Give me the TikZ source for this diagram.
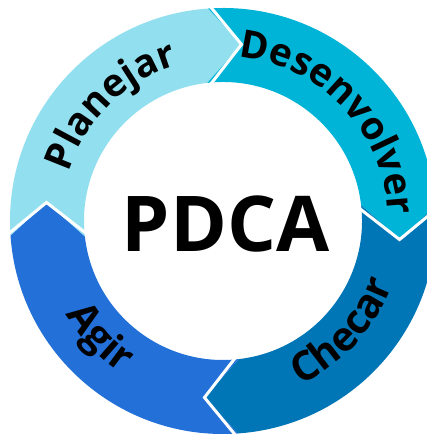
\documentclass[tikz,border=0pt]{standalone}
\usepackage{fontspec}
\newfontfamily\osans{Open Sans}
\usetikzlibrary{decorations.text}
\definecolor{planC}{RGB}{146,224,239}
\definecolor{doC}{RGB}{0,180,216}
\definecolor{checkC}{RGB}{0,118,182}
\definecolor{actC}{RGB}{34,112,216}
\newcommand\outerlabelfont{\osans\bfseries\fontsize{38.5}{40}\selectfont}
\newcommand\innerlabelfont{\osans\bfseries\fontsize{40.5}{42}\selectfont}
\tikzset{
  gapline/.style={draw=white, line width=3pt, line join=miter, line cap=butt},
  arctext/.style={decorate, decoration={text along path, text align=center, text={|\outerlabelfont|#1}}},
  arctextin/.style={decorate, decoration={text along path, text align=center, text={|\innerlabelfont|#1}}}
}
% one arrow of the ring: #1 colour, #2 angle of its notched end, #3 angle of its pointed end
\newcommand\ringarrow[3]{%
  \fill[#1] (#2-1:213) arc[start angle=#2-1, end angle=#3-1, radius=213]
    -- (#3-11:177.5) -- (#3+1.5:139)
    arc[start angle=#3+1.5, end angle=#2+1.5, radius=139]
    -- (#2-11:177.5) -- cycle;}
\begin{document}
\begin{tikzpicture}[x=1pt,y=1pt]
\useasboundingbox (0,0) rectangle (427,436);
\clip (0,0) rectangle (427,436);
\fill[white] (0,0) rectangle (427,436);
\begin{scope}[shift={(223,215)}]
  \ringarrow{planC}{185}{95}
  \ringarrow{doC}{95}{5}
  \ringarrow{checkC}{5}{-85}
  \ringarrow{actC}{-85}{-175}
  % white seams between the arrows
  \foreach \t in {95,5,-85,185}
    \draw[gapline] (\t-1:218) -- (\t-11:177.5) -- (\t+1.5:134);
  % labels following the ring
  \path[arctext=Planejar] (179.3:162) arc[start angle=179.3, end angle=89.3, radius=162];
  \path[arctext=Desenvolver] (88.3:165) arc[start angle=88.3, end angle=-1.7, radius=165];
  \path[arctextin=Checar] (-87.6:181) arc[start angle=-87.6, end angle=2.4, radius=181];
  \path[arctextin=Agir] (178.5:183) arc[start angle=178.5, end angle=268.5, radius=183];
\end{scope}
\node[anchor=base, inner sep=0pt, font=\osans\bfseries\fontsize{77}{80}\selectfont] (pdca) at (225.5,184) {PDCA};
\end{tikzpicture}
\end{document}
